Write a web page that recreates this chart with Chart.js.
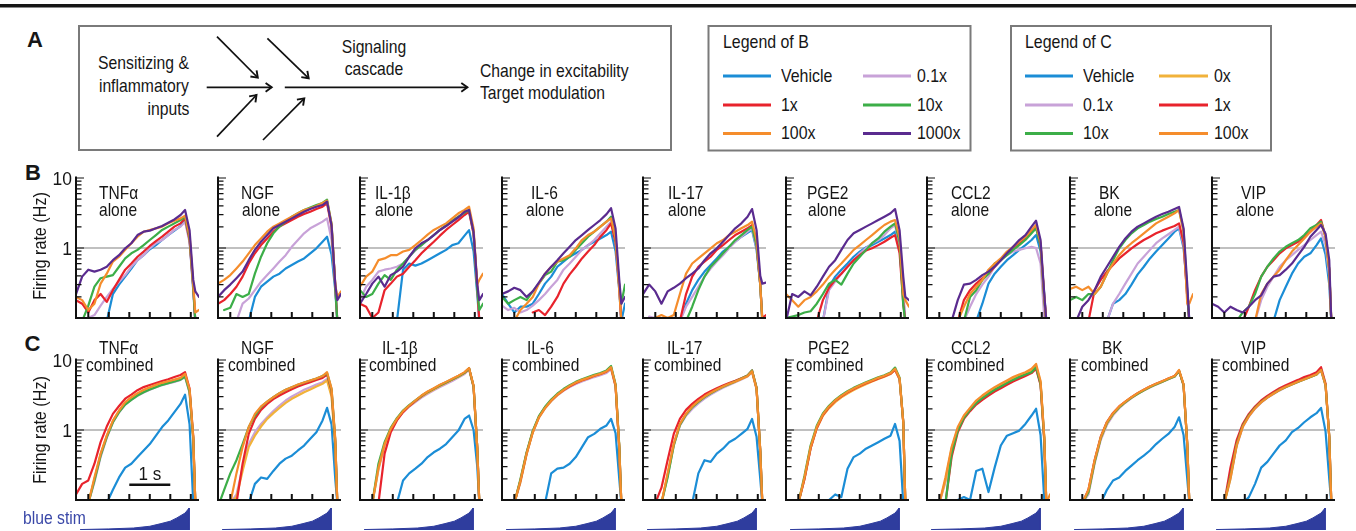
<!DOCTYPE html>
<html><head><meta charset="utf-8">
<script src="https://cdn.jsdelivr.net/npm/chart.js@4.4.1/dist/chart.umd.min.js"></script>
<style>
html,body{margin:0;padding:0;background:#fff;}
body{width:1356px;height:531px;position:relative;overflow:hidden;font-family:'Liberation Sans',Arial,Helvetica,sans-serif;color:#161616;}
.t{position:absolute;white-space:nowrap;line-height:1;}
canvas{position:absolute;}
svg{position:absolute;left:0;top:0;}
</style></head><body>
<script>
const _ = null;
// time grid (s)
const T = [-0.3,-0.15,0,0.15,0.3,0.45,0.6,0.75,0.9,1.05,1.2,1.35,1.5,1.65,1.8,1.95,2.1,2.25,2.36,2.47,2.56,2.61,2.7];
const xTicks = [0,0.5,1,1.5,2,2.5];
const yMinorTicks = [0.2,0.3,0.4,0.5,0.6,0.7,0.8,0.9,2,3,4,5,6,7,8,9];
const yMajorTicks = [1,10];
const yTickLabels = ['10','1'];
const yTickValues = [10,1];
const panelNames = ['TNFα','NGF','IL-1β','IL-6','IL-17','PGE2','CCL2','BK','VIP'];
const legendBLabels = ['Vehicle','0.1x','1x','10x','100x','1000x'];
const legendCLabels = ['Vehicle','0x','0.1x','1x','10x','100x'];
// blue stim ramp (normalized intensity)
const stimT = [-0.2,0.5,1.1,1.5,1.75,2.0,2.16,2.36,2.46,2.46];
const stimV = [0.02,0.05,0.09,0.17,0.28,0.4,0.55,0.77,1.0,0];

// ---- Row B (alone), Hz ----
const bTNF_veh  = [_,_,_,_,_,0.09,0.22,0.3,0.39,0.51,0.67,0.79,0.96,1.1,1.3,1.53,1.77,2.06,2.5,1.3,0.25,0.09,_];
const bTNF_x01  = [_,0.09,0.1,0.11,0.15,0.2,0.26,0.33,0.41,0.54,0.67,0.79,0.99,1.17,1.3,1.53,1.81,2.02,2.38,1.2,0.25,0.09,_];
const bTNF_x1   = [0.18,0.16,0.12,0.18,0.22,0.17,0.25,0.35,0.49,0.6,0.75,0.89,1.07,1.25,1.45,1.71,2.02,2.25,2.65,1.3,0.28,0.09,_];
const bTNF_x10  = [_,0.09,0.15,0.28,0.37,0.39,0.41,0.54,0.71,0.84,0.94,1.1,1.3,1.53,1.81,2.02,2.25,2.51,2.8,1.4,0.28,0.09,_];
const bTNF_x100 = [0.2,0.18,0.13,0.16,0.31,0.43,0.64,0.75,0.94,1.17,1.45,1.71,1.81,1.91,2.02,2.25,2.45,2.65,2.9,1.5,0.3,0.12,0.13];
const bTNF_x1000= [0.22,0.39,0.49,0.46,0.49,0.54,0.67,0.79,0.99,1.17,1.53,1.71,1.77,1.91,2.06,2.3,2.56,2.96,3.49,1.8,0.35,0.24,0.2];

const bNGF_veh  = [_,_,_,_,_,0.09,0.2,0.28,0.33,0.39,0.43,0.51,0.57,0.64,0.71,0.84,0.99,1.23,1.45,0.8,0.25,0.09,_];
const bNGF_x01  = [_,_,_,0.09,0.16,0.19,0.25,0.33,0.41,0.51,0.64,0.79,1.04,1.3,1.62,1.91,2.13,2.38,2.65,1.3,0.28,0.09,_];
const bNGF_x1   = [0.16,0.18,0.22,0.28,0.39,0.6,0.84,1.1,1.37,1.71,2.02,2.25,2.51,2.8,3.05,3.3,3.6,3.89,4.35,2.0,0.3,0.09,_];
const bNGF_x10  = [_,0.13,0.14,0.22,0.2,0.22,0.43,0.75,1.17,1.62,2.02,2.38,2.8,3.13,3.49,3.8,4.11,4.4,4.9,2.2,0.28,0.09,_];
const bNGF_x100 = [0.31,0.35,0.41,0.51,0.64,0.84,1.1,1.37,1.71,2.02,2.25,2.51,2.8,3.13,3.49,3.69,3.99,4.4,4.75,2.2,0.3,0.2,0.24];
const bNGF_x1000= [0.2,0.25,0.3,0.37,0.46,0.67,0.94,1.23,1.53,1.91,2.13,2.38,2.65,2.96,3.3,3.6,3.89,4.11,4.6,2.1,0.3,0.18,0.22];

const bIL1_veh  = [_,_,_,_,_,_,0.09,0.49,0.6,0.56,0.6,0.67,0.75,0.84,0.94,1.1,1.17,1.5,1.8,0.9,0.22,0.09,_];
const bIL1_x01  = [0.18,0.28,0.35,0.46,0.49,0.51,0.54,0.6,0.75,0.92,1.1,1.3,1.53,1.81,2.06,2.38,2.75,3.13,3.3,1.6,0.28,0.09,_];
const bIL1_x1   = [0.16,0.145,0.1,0.12,0.25,0.31,0.39,0.43,0.54,0.67,0.84,1.02,1.23,1.5,1.81,2.13,2.51,2.96,3.3,1.6,0.28,0.09,_];
const bIL1_x10  = [0.25,0.2,0.22,0.31,0.41,0.35,0.49,0.6,0.75,0.94,1.1,1.3,1.53,1.81,2.1,2.45,2.8,3.2,3.49,1.7,0.25,0.13,0.16];
const bIL1_x100 = [0.28,0.39,0.46,0.67,0.71,0.79,0.79,0.89,0.94,1.1,1.3,1.55,1.81,2.02,2.25,2.65,3.13,3.49,3.89,1.9,0.3,0.35,0.43];
const bIL1_x1000= [0.16,0.22,0.31,0.39,0.28,0.41,0.46,0.54,0.75,0.99,1.17,1.3,1.53,1.81,2.06,2.38,2.75,3.3,3.49,1.7,0.3,0.18,0.22];

const bIL6_veh  = [0.22,0.16,0.12,0.145,0.145,0.16,0.22,0.31,0.39,0.54,0.64,0.75,0.84,0.94,1.1,1.23,1.37,1.53,1.71,0.9,0.25,0.09,0.16];
const bIL6_x01  = [0.15,0.13,0.14,0.12,0.13,0.15,0.18,0.22,0.28,0.35,0.49,0.6,0.75,0.94,1.1,1.3,1.62,2.02,2.38,1.2,0.28,0.09,_];
const bIL6_x1   = [_,_,_,_,_,0.12,0.13,0.11,0.145,0.2,0.31,0.42,0.54,0.71,0.89,1.1,1.45,1.81,2.25,1.2,0.28,0.09,_];
const bIL6_x10  = [0.2,0.16,0.18,0.2,0.18,0.24,0.31,0.41,0.46,0.64,0.67,0.75,0.94,1.17,1.45,1.71,2.02,2.38,2.8,1.4,0.28,0.16,0.3];
const bIL6_x100 = [_,_,0.09,0.13,0.16,0.2,0.31,0.43,0.54,0.64,0.71,0.79,0.99,1.3,1.53,1.71,2.02,2.38,2.65,1.4,0.25,0.09,_];
const bIL6_x1000= [0.22,0.24,0.27,0.25,0.2,0.24,0.32,0.43,0.54,0.67,0.84,1.04,1.3,1.53,1.81,2.13,2.51,3.05,3.7,1.9,0.35,0.16,0.2];

const bIL17_veh  = [_,_,_,_,_,_,0.09,0.16,0.25,0.35,0.46,0.57,0.71,0.89,1.04,1.23,1.45,1.65,1.8,0.95,0.3,0.09,_];
const bIL17_x01  = [_,0.105,0.1,0.09,_,_,0.09,0.145,0.2,0.28,0.39,0.51,0.64,0.79,0.99,1.23,1.45,1.71,1.91,1.0,0.3,0.09,_];
const bIL17_x1   = [_,_,_,_,_,_,0.09,0.22,0.39,0.54,0.64,0.75,0.94,1.1,1.3,1.53,1.71,1.91,2.13,1.1,0.3,0.1,0.11];
const bIL17_x10  = [_,_,_,_,_,_,_,0.09,0.145,0.25,0.39,0.54,0.67,0.84,1.04,1.3,1.53,1.81,2.02,1.1,0.3,0.09,_];
const bIL17_x100 = [_,_,0.1,0.11,0.1,0.11,0.22,0.43,0.6,0.71,0.84,0.99,1.17,1.3,1.53,1.71,1.91,2.13,2.38,1.3,0.3,0.09,_];
const bIL17_x1000= [0.22,0.3,0.24,0.16,0.24,0.27,0.31,0.37,0.43,0.51,0.67,0.84,0.99,1.23,1.53,1.91,2.25,2.8,3.6,1.8,0.4,0.31,0.32];

const bPGE_veh  = [_,_,_,_,_,_,0.09,0.28,0.39,0.49,0.6,0.75,0.89,1.02,1.1,1.23,1.37,1.53,1.71,1.0,0.2,0.09,_];
const bPGE_x01  = [_,_,_,_,_,_,0.09,0.25,0.33,0.43,0.54,0.67,0.84,1.0,1.17,1.3,1.53,1.91,2.13,1.1,0.25,0.09,_];
const bPGE_x1   = [_,_,_,_,_,0.09,0.18,0.27,0.35,0.43,0.54,0.67,0.79,0.92,0.99,1.1,1.23,1.4,1.53,0.85,0.16,0.09,_];
const bPGE_x10  = [0.1,0.105,0.11,0.12,0.125,0.16,0.22,0.31,0.35,0.3,0.43,0.6,0.75,0.94,1.17,1.37,1.71,2.02,2.25,1.2,0.15,0.09,_];
const bPGE_x100 = [0.22,0.18,0.145,0.18,0.2,0.24,0.3,0.39,0.49,0.6,0.75,0.94,1.1,1.3,1.53,1.81,2.13,2.38,2.51,1.4,0.22,0.18,0.145];
const bPGE_x1000= [0.09,0.22,0.2,0.24,0.21,0.28,0.39,0.54,0.67,0.94,1.3,1.62,1.81,2.02,2.25,2.51,2.8,3.13,3.6,1.8,0.39,0.2,0.18];

const bCCL_veh  = [_,_,_,_,_,_,_,_,0.09,0.16,0.31,0.43,0.54,0.67,0.79,0.94,1.1,1.3,1.53,0.9,0.22,0.09,_];
const bCCL_x01  = [_,_,_,_,_,_,0.09,0.145,0.22,0.3,0.39,0.54,0.67,0.79,0.89,0.94,0.99,1.04,1.0,0.6,0.1,0.09,_];
const bCCL_x1   = [_,_,_,_,_,0.09,0.18,0.25,0.31,0.37,0.43,0.54,0.67,0.84,0.99,1.17,1.4,1.71,2.02,1.1,0.2,0.09,_];
const bCCL_x10  = [_,_,_,_,_,_,0.09,0.2,0.25,0.35,0.43,0.6,0.67,0.79,0.94,1.1,1.3,1.62,1.91,1.1,0.18,0.09,_];
const bCCL_x100 = [_,_,_,_,_,0.09,0.145,0.22,0.28,0.35,0.49,0.6,0.71,0.89,1.04,1.23,1.45,1.81,2.13,1.2,0.2,0.09,_];
const bCCL_x1000= [_,_,_,_,0.09,0.18,0.3,0.31,0.35,0.41,0.46,0.54,0.67,0.84,1.04,1.3,1.53,2.02,2.45,1.3,0.22,0.09,_];

const bBK_veh  = [_,_,_,_,_,_,0.09,0.16,0.18,0.22,0.3,0.42,0.54,0.71,0.89,1.1,1.37,1.71,1.91,1.0,0.25,0.09,_];
const bBK_x01  = [_,_,_,_,_,_,0.09,0.16,0.22,0.31,0.43,0.6,0.75,0.94,1.17,1.37,1.57,1.81,2.02,1.1,0.2,0.09,_];
const bBK_x1   = [_,_,_,0.09,0.25,0.35,0.46,0.57,0.71,0.84,0.99,1.14,1.3,1.45,1.62,1.77,1.91,2.06,2.25,1.2,0.2,0.09,_];
const bBK_x10  = [0.18,0.2,0.18,0.22,0.22,0.28,0.43,0.67,0.99,1.3,1.62,1.91,2.13,2.38,2.6,2.8,3.05,3.3,3.49,1.8,0.22,0.09,_];
const bBK_x100 = [0.26,0.28,0.25,0.28,0.22,0.28,0.43,0.6,0.79,0.99,1.17,1.37,1.62,1.91,2.25,2.51,2.8,3.13,3.49,1.7,0.16,0.16,0.22];
const bBK_x1000= [_,0.09,0.145,0.18,0.25,0.39,0.54,0.75,1.04,1.37,1.71,2.02,2.25,2.51,2.8,3.05,3.3,3.6,3.85,1.9,0.3,0.09,_];

const bVIP_veh  = [_,_,_,_,_,_,_,_,_,_,0.09,0.18,0.28,0.43,0.6,0.75,0.84,1.1,1.37,0.8,0.3,0.09,_];
const bVIP_x01  = [_,_,_,_,_,_,_,0.09,0.18,0.28,0.39,0.54,0.67,0.79,0.94,1.1,1.3,1.53,1.71,1.1,0.39,0.09,_];
const bVIP_x1   = [_,_,_,_,_,0.09,0.145,0.25,0.39,0.54,0.67,0.84,0.99,1.1,1.23,1.45,1.71,2.13,2.51,1.45,0.49,0.09,_];
const bVIP_x10  = [_,_,_,_,0.09,0.12,0.145,0.22,0.39,0.54,0.71,0.89,1.04,1.17,1.3,1.53,1.91,2.13,2.38,1.45,0.49,0.09,_];
const bVIP_x100 = [_,_,_,_,_,_,_,0.09,0.22,0.31,0.39,0.49,0.67,0.89,1.1,1.37,1.71,2.02,2.25,1.45,0.49,0.09,_];
const bVIP_x1000= [0.16,0.145,0.12,0.145,0.13,0.12,0.145,0.18,0.21,0.31,0.39,0.41,0.49,0.6,0.79,1.04,1.45,1.81,2.13,1.6,0.67,0.09,_];

// ---- Row C (combined), Hz ----
const cTNF_veh  = [_,_,_,_,_,0.09,0.14,0.21,0.29,0.33,0.41,0.51,0.63,0.83,1.1,1.37,1.8,2.36,3.2,1.2,0.09,_,_];
const cTNF_x0   = [_,_,0.09,0.2,0.45,0.82,1.34,1.86,2.42,2.85,3.21,3.63,3.92,4.22,4.57,4.82,5.1,5.38,6.0,3.6,0.75,0.09,_];
const cTNF_x01  = [_,_,0.09,0.18,0.41,0.77,1.28,1.78,2.31,2.7,3.08,3.43,3.75,4.09,4.37,4.62,4.87,5.2,5.7,3.4,0.7,0.09,_];
const cTNF_x1   = [0.12,0.17,0.19,0.33,0.67,1.12,1.7,2.2,2.8,3.2,3.7,4.1,4.4,4.7,5.0,5.3,5.7,6.1,6.7,3.9,0.8,0.09,0.1];
const cTNF_x10  = [_,_,0.09,0.19,0.43,0.79,1.29,1.8,2.31,2.7,3.11,3.47,3.79,4.09,4.42,4.67,4.93,5.25,5.8,3.5,0.75,0.09,_];
const cTNF_x100 = [_,_,0.09,0.21,0.46,0.83,1.36,1.9,2.5,2.94,3.36,3.75,4.09,4.42,4.72,4.98,5.25,5.56,6.35,3.8,0.8,0.09,_];

const cNGF_veh  = [_,_,_,_,_,0.09,0.17,0.21,0.2,0.26,0.33,0.39,0.43,0.51,0.6,0.75,0.93,1.37,2.07,1.2,0.2,0.09,_];
const cNGF_x0   = [_,_,0.09,0.11,0.26,0.57,0.83,1.12,1.44,1.74,2.07,2.44,2.79,3.11,3.47,3.79,4.18,4.57,5.1,3.0,0.6,0.09,_];
const cNGF_x01  = [_,_,0.09,0.12,0.29,0.63,0.93,1.22,1.52,1.86,2.24,2.64,3.01,3.36,3.75,4.09,4.47,4.82,5.38,3.2,0.6,0.09,_];
const cNGF_x1   = [_,_,_,0.09,0.33,0.88,1.44,1.94,2.36,2.76,3.11,3.47,3.83,4.18,4.52,4.82,5.2,5.56,6.2,3.6,0.7,0.09,_];
const cNGF_x10  = [0.08,0.14,0.24,0.37,0.63,1.1,1.61,2.12,2.55,2.94,3.36,3.75,4.09,4.42,4.77,5.1,5.44,5.9,6.5,3.8,0.7,0.09,_];
const cNGF_x100 = [_,_,0.09,0.24,0.57,1.1,1.7,2.17,2.55,2.94,3.36,3.75,4.09,4.47,4.77,5.1,5.44,5.9,6.7,3.9,0.75,0.09,_];

const cIL1_veh  = [_,_,_,_,_,_,0.09,0.19,0.24,0.28,0.33,0.41,0.48,0.54,0.63,0.79,0.98,1.44,1.61,1.0,0.3,0.09,_];
const cIL1_x0   = [_,_,0.09,0.28,0.62,1.02,1.42,1.83,2.2,2.58,3.0,3.4,3.8,4.25,4.7,5.2,5.75,6.5,7.5,4.2,0.55,0.09,_];
const cIL1_x01  = [_,_,0.09,0.27,0.6,1.0,1.4,1.8,2.15,2.5,2.9,3.3,3.7,4.1,4.55,5.0,5.6,6.3,7.3,4.1,0.55,0.09,_];
const cIL1_x1   = [_,_,_,0.09,0.46,0.93,1.37,1.8,2.2,2.6,3.05,3.5,3.9,4.35,4.8,5.3,5.9,6.6,7.6,4.2,0.55,0.09,_];
const cIL1_x10  = [_,_,0.09,0.33,0.67,1.07,1.48,1.9,2.27,2.64,3.08,3.5,3.9,4.35,4.8,5.3,5.85,6.6,7.6,4.2,0.55,0.09,_];
const cIL1_x100 = [_,_,0.09,0.29,0.63,1.04,1.44,1.86,2.24,2.64,3.11,3.55,3.96,4.42,4.87,5.38,5.95,6.7,7.7,4.3,0.55,0.09,_];

const cIL6_veh  = [_,_,_,_,_,_,_,0.09,0.24,0.28,0.29,0.33,0.41,0.57,0.79,0.88,1.04,1.16,1.44,0.9,0.2,0.09,_];
const cIL6_x0   = [_,_,0.09,0.18,0.45,0.92,1.5,2.05,2.6,3.15,3.68,4.2,4.68,5.1,5.45,5.9,6.25,6.8,7.7,4.3,0.57,0.09,_];
const cIL6_x01  = [_,_,0.09,0.18,0.45,0.92,1.5,2.04,2.58,3.12,3.62,4.1,4.55,4.95,5.3,5.7,6.05,6.55,7.4,4.2,0.55,0.09,_];
const cIL6_x1   = [_,_,0.09,0.19,0.47,0.95,1.54,2.1,2.66,3.2,3.72,4.22,4.7,5.15,5.5,5.95,6.3,6.85,7.8,4.3,0.57,0.09,_];
const cIL6_x10  = [_,_,0.09,0.2,0.48,0.97,1.58,2.15,2.72,3.3,3.85,4.37,4.87,5.3,5.7,6.15,6.5,7.1,8.2,4.5,0.6,0.09,_];
const cIL6_x100 = [_,_,0.09,0.19,0.46,0.93,1.52,2.07,2.64,3.21,3.75,4.27,4.77,5.2,5.56,6.0,6.35,6.9,7.9,4.4,0.57,0.09,_];

const cIL17_veh  = [_,_,_,_,_,_,_,_,0.09,0.24,0.37,0.35,0.46,0.54,0.67,0.75,0.88,1.04,1.44,0.8,0.2,0.09,_];
const cIL17_x0   = [_,_,_,0.09,0.23,0.62,1.2,1.68,2.14,2.55,2.97,3.37,3.75,4.15,4.52,4.9,5.35,5.85,6.8,3.9,0.5,0.09,_];
const cIL17_x01  = [_,_,_,0.09,0.22,0.6,1.15,1.6,2.0,2.4,2.8,3.2,3.6,4.0,4.4,4.8,5.25,5.8,6.7,3.8,0.5,0.09,_];
const cIL17_x1   = [_,_,0.09,0.15,0.37,0.88,1.44,1.94,2.36,2.79,3.21,3.59,3.96,4.32,4.67,5.04,5.5,6.0,7.1,4.0,0.5,0.09,_];
const cIL17_x10  = [_,_,_,0.09,0.21,0.6,1.18,1.66,2.12,2.52,2.95,3.35,3.75,4.15,4.55,4.95,5.45,6.0,7.1,4.0,0.5,0.09,_];
const cIL17_x100 = [_,_,_,0.09,0.24,0.63,1.22,1.7,2.17,2.58,3.01,3.4,3.79,4.18,4.57,4.93,5.38,5.9,6.9,3.9,0.5,0.09,_];

const cPGE_veh  = [_,_,_,_,_,_,_,0.1,0.12,0.11,0.28,0.41,0.46,0.54,0.6,0.67,0.75,0.83,1.22,0.7,0.09,_,_];
const cPGE_x0   = [_,_,0.09,0.2,0.55,1.05,1.6,2.05,2.5,2.92,3.32,3.72,4.12,4.52,4.92,5.35,5.75,6.3,7.2,5.3,1.3,0.09,_];
const cPGE_x01  = [_,_,0.09,0.2,0.55,1.07,1.63,2.12,2.58,3.0,3.4,3.8,4.2,4.6,5.0,5.4,5.8,6.35,7.2,5.3,1.3,0.09,_];
const cPGE_x1   = [_,_,0.09,0.2,0.55,1.07,1.63,2.12,2.6,3.03,3.45,3.85,4.25,4.65,5.0,5.45,5.85,6.4,7.3,5.4,1.3,0.09,0.1];
const cPGE_x10  = [_,_,0.09,0.22,0.6,1.15,1.72,2.22,2.7,3.14,3.58,4.0,4.4,4.8,5.2,5.65,6.05,6.65,7.8,5.6,1.3,0.09,_];
const cPGE_x100 = [_,_,0.09,0.21,0.57,1.1,1.67,2.17,2.64,3.08,3.51,3.92,4.32,4.72,5.1,5.56,5.95,6.5,7.5,5.5,1.3,0.09,_];

const cCCL_veh  = [_,_,_,_,_,0.1,0.11,0.1,0.26,0.28,0.13,0.29,0.6,0.83,0.9,0.98,1.22,1.61,2.01,0.85,0.1,_,_];
const cCCL_x0   = [_,_,0.09,0.19,0.54,1.05,1.55,2.0,2.52,2.98,3.45,3.9,4.35,4.85,5.4,5.9,6.4,7.0,8.2,4.8,0.78,0.09,_];
const cCCL_x01  = [_,_,0.09,0.18,0.52,1.02,1.52,1.98,2.5,2.95,3.4,3.85,4.3,4.75,5.25,5.75,6.25,6.8,7.9,4.6,0.75,0.09,_];
const cCCL_x1   = [_,_,_,0.09,0.41,0.93,1.44,1.86,2.31,2.7,3.11,3.55,3.96,4.42,4.93,5.38,5.9,6.5,7.5,4.4,0.7,0.09,_];
const cCCL_x10  = [_,_,_,0.09,0.46,0.98,1.49,1.94,2.42,2.85,3.29,3.75,4.18,4.67,5.2,5.7,6.2,6.7,7.9,4.6,0.75,0.09,_];
const cCCL_x100 = [_,_,0.09,0.21,0.57,1.1,1.61,2.07,2.64,3.11,3.59,4.09,4.57,5.1,5.7,6.2,6.7,7.5,8.8,5.0,0.8,0.09,0.12];

const cBK_veh  = [_,_,_,_,_,0.09,0.14,0.19,0.21,0.26,0.31,0.37,0.43,0.51,0.63,0.75,0.88,1.1,1.52,0.85,0.2,0.09,_];
const cBK_x0   = [_,_,0.09,0.13,0.35,0.76,1.24,1.68,2.1,2.5,2.9,3.3,3.7,4.1,4.5,4.9,5.35,5.8,7.0,4.4,0.62,0.09,_];
const cBK_x01  = [_,_,0.09,0.12,0.33,0.72,1.18,1.62,2.05,2.45,2.85,3.25,3.65,4.05,4.45,4.85,5.3,5.75,6.9,4.3,0.6,0.09,_];
const cBK_x1   = [_,_,0.09,0.14,0.37,0.8,1.3,1.75,2.17,2.55,2.94,3.36,3.75,4.18,4.57,4.98,5.44,5.9,7.0,4.4,0.62,0.09,_];
const cBK_x10  = [_,_,0.09,0.13,0.35,0.77,1.26,1.7,2.12,2.5,2.9,3.3,3.7,4.12,4.5,4.9,5.35,5.8,7.0,4.4,0.62,0.09,_];
const cBK_x100 = [_,_,0.09,0.14,0.37,0.79,1.29,1.74,2.17,2.55,2.94,3.36,3.75,4.18,4.57,4.98,5.44,5.9,7.2,4.5,0.63,0.09,_];

const cVIP_veh  = [_,_,_,_,_,0.09,0.11,0.17,0.29,0.35,0.46,0.6,0.71,0.93,1.07,1.29,1.52,1.74,2.07,0.95,0.2,0.09,_];
const cVIP_x0   = [_,_,0.09,0.2,0.6,1.12,1.6,2.06,2.5,2.92,3.32,3.73,4.1,4.48,4.88,5.28,5.7,6.2,7.3,4.4,0.8,0.09,_];
const cVIP_x01  = [_,_,0.09,0.2,0.58,1.1,1.56,2.02,2.46,2.87,3.27,3.68,4.07,4.45,4.85,5.25,5.7,6.2,7.1,4.3,0.8,0.09,_];
const cVIP_x1   = [_,_,0.09,0.29,0.71,1.22,1.7,2.17,2.64,3.08,3.51,3.96,4.37,4.77,5.2,5.7,6.1,6.7,7.9,4.6,0.8,0.09,_];
const cVIP_x10  = [_,_,0.09,0.22,0.62,1.15,1.62,2.08,2.52,2.93,3.33,3.75,4.12,4.5,4.9,5.3,5.72,6.2,7.2,4.4,0.8,0.09,_];
const cVIP_x100 = [_,_,0.09,0.21,0.6,1.12,1.58,2.05,2.5,2.91,3.32,3.75,4.14,4.52,4.93,5.3,5.75,6.25,7.2,4.4,0.8,0.09,_];

// tables built from the arrays above
const rowBSeries = [
  [bTNF_veh,bTNF_x01,bTNF_x1,bTNF_x10,bTNF_x100,bTNF_x1000],
  [bNGF_veh,bNGF_x01,bNGF_x1,bNGF_x10,bNGF_x100,bNGF_x1000],
  [bIL1_veh,bIL1_x01,bIL1_x1,bIL1_x10,bIL1_x100,bIL1_x1000],
  [bIL6_veh,bIL6_x01,bIL6_x1,bIL6_x10,bIL6_x100,bIL6_x1000],
  [bIL17_veh,bIL17_x01,bIL17_x1,bIL17_x10,bIL17_x100,bIL17_x1000],
  [bPGE_veh,bPGE_x01,bPGE_x1,bPGE_x10,bPGE_x100,bPGE_x1000],
  [bCCL_veh,bCCL_x01,bCCL_x1,bCCL_x10,bCCL_x100,bCCL_x1000],
  [bBK_veh,bBK_x01,bBK_x1,bBK_x10,bBK_x100,bBK_x1000],
  [bVIP_veh,bVIP_x01,bVIP_x1,bVIP_x10,bVIP_x100,bVIP_x1000]];
const rowCSeries = [
  [cTNF_veh,cTNF_x0,cTNF_x01,cTNF_x1,cTNF_x10,cTNF_x100],
  [cNGF_veh,cNGF_x0,cNGF_x01,cNGF_x1,cNGF_x10,cNGF_x100],
  [cIL1_veh,cIL1_x0,cIL1_x01,cIL1_x1,cIL1_x10,cIL1_x100],
  [cIL6_veh,cIL6_x0,cIL6_x01,cIL6_x1,cIL6_x10,cIL6_x100],
  [cIL17_veh,cIL17_x0,cIL17_x01,cIL17_x1,cIL17_x10,cIL17_x100],
  [cPGE_veh,cPGE_x0,cPGE_x01,cPGE_x1,cPGE_x10,cPGE_x100],
  [cCCL_veh,cCCL_x0,cCCL_x01,cCCL_x1,cCCL_x10,cCCL_x100],
  [cBK_veh,cBK_x0,cBK_x01,cBK_x1,cBK_x10,cBK_x100],
  [cVIP_veh,cVIP_x0,cVIP_x01,cVIP_x1,cVIP_x10,cVIP_x100]];

// ---------- styling / layout ----------
const COL = {veh:'#1b8dd6', x01:'#c8a2d8', x1:'#e8232c', x10:'#3cae48', x100:'#f58d2c', x1000:'#5a2b8f', x0:'#f1b23a'};
const colorsB = [COL.veh,COL.x01,COL.x1,COL.x10,COL.x100,COL.x1000];
const colorsC = [COL.veh,COL.x0,COL.x01,COL.x1,COL.x10,COL.x100];
const orderB = [5,4,3,2,1,0];
const orderC = [5,4,3,1,2,0];
const axisX = [76,218,360,502,643,786,927,1070,1212];
const PW = 123;

function label(s, x, base, size, o={}) {
  const d = document.createElement('div');
  d.className = 't';
  d.textContent = s;
  d.style.fontSize = size + 'px';
  d.style.top = (base - 0.8465*size).toFixed(2) + 'px';
  const sx = o.sx ?? 0.85;
  if (o.bold) d.style.fontWeight = 'bold';
  if (o.color) d.style.color = o.color;
  if (o.align === 'right') { d.style.right = (1356 - x) + 'px'; d.style.transformOrigin = '100% 0'; d.style.transform = `scaleX(${sx})`; }
  else if (o.align === 'center') { d.style.left = x + 'px'; d.style.transformOrigin = '50% 0'; d.style.transform = `translateX(-50%) scaleX(${sx})`; }
  else { d.style.left = x + 'px'; d.style.transformOrigin = '0 0'; d.style.transform = `scaleX(${sx})`; }
  document.body.appendChild(d);
  return d;
}
function vlabel(s, cx, cy, size, sx) {
  const d = document.createElement('div');
  d.className = 't';
  d.textContent = s;
  d.style.fontSize = size + 'px';
  d.style.left = cx + 'px'; d.style.top = cy + 'px';
  d.style.transform = `translate(-50%,-50%) rotate(-90deg) scaleX(${sx})`;
  document.body.appendChild(d);
}
function ctext(ctx, s, x, y, size, align, sx) {
  ctx.save(); ctx.translate(x, y); ctx.scale(sx, 1);
  ctx.font = size + 'px "Liberation Sans", Arial, sans-serif';
  ctx.fillStyle = '#161616'; ctx.textAlign = align; ctx.textBaseline = 'alphabetic';
  ctx.fillText(s, 0, 0); ctx.restore();
}

function decor(cfg) {
  return {
    id: 'panelDecor',
    beforeDatasetsDraw(chart) {
      const {ctx, chartArea: a, scales: {y}} = chart;
      const py = y.getPixelForValue(1);
      ctx.save(); ctx.strokeStyle = '#ababab'; ctx.lineWidth = 1.3;
      ctx.beginPath(); ctx.moveTo(a.left, py); ctx.lineTo(a.right, py); ctx.stroke(); ctx.restore();
    },
    afterDatasetsDraw(chart) {
      const {ctx, chartArea: a, scales: {x, y}} = chart;
      ctx.save();
      ctx.strokeStyle = '#111'; ctx.lineWidth = 2;
      ctx.beginPath();
      ctx.moveTo(a.left, a.top - 1.5); ctx.lineTo(a.left, a.bottom + 1);
      ctx.moveTo(a.left - 1, a.bottom); ctx.lineTo(a.right, a.bottom);
      ctx.stroke();
      ctx.lineWidth = 1.2; ctx.beginPath();
      yMinorTicks.forEach(v => { const p = y.getPixelForValue(v); ctx.moveTo(a.left, p); ctx.lineTo(a.left + 5.5, p); });
      yMajorTicks.forEach(v => { const p = y.getPixelForValue(v); ctx.moveTo(a.left, p); ctx.lineTo(a.left + 8, p); });
      ctx.stroke();
      ctx.lineWidth = 2; ctx.beginPath();
      xTicks.forEach(t => { const p = x.getPixelForValue(t); ctx.moveTo(p, a.bottom); ctx.lineTo(p, a.bottom - 6); });
      ctx.stroke();
      if (cfg.labels) yTickValues.forEach((v, i) => ctext(ctx, yTickLabels[i], a.left - 4, y.getPixelForValue(v) + 7, 19, 'right', 0.92));
      if (cfg.scaleBar) {
        const yb = y.getPixelForValue(0.165);
        ctx.lineWidth = 2.5; ctx.beginPath();
        ctx.moveTo(x.getPixelForValue(1.0), yb); ctx.lineTo(x.getPixelForValue(2.0), yb); ctx.stroke();
        ctext(ctx, '1 s', x.getPixelForValue(1.5), yb - 4.5, 19, 'center', 0.9);
      }
      ctx.restore();
    }
  };
}

function makeChart(left, top, bottom, padL, datasets, yScale, plugin) {
  const padR = 6, padT = 6, padB = 5;
  const w = PW + padL + padR, h = (bottom - top) + padT + padB;
  const cv = document.createElement('canvas');
  cv.width = w; cv.height = h;
  Object.assign(cv.style, {left: (left - padL) + 'px', top: (top - padT) + 'px', width: w + 'px', height: h + 'px'});
  document.body.appendChild(cv);
  return new Chart(cv.getContext('2d'), {
    type: 'line',
    data: {datasets},
    options: {
      responsive: false, maintainAspectRatio: false, animation: false, devicePixelRatio: 1, events: [],
      layout: {padding: {left: padL, right: padR, top: padT, bottom: padB}},
      plugins: {legend: {display: false}, tooltip: {enabled: false}, title: {display: false}},
      scales: {x: {type: 'linear', min: -0.3, max: 2.7, display: false}, y: yScale}
    },
    plugins: plugin ? [plugin] : []
  });
}
function traceSets(series, colors, order) {
  return order.map(i => ({
    data: T.map((t, j) => ({x: t, y: series[i][j]})),
    borderColor: colors[i], borderWidth: 2.2, pointRadius: 0, tension: 0, fill: false,
    borderJoinStyle: 'round', borderCapStyle: 'round', spanGaps: false
  }));
}
const logY = {type: 'logarithmic', min: 0.1, max: 10, display: false};

// ---------- build panels ----------
for (let k = 0; k < 9; k++) {
  makeChart(axisX[k], 178, 318, k === 0 ? 32 : 6, traceSets(rowBSeries[k], colorsB, orderB), logY, decor({labels: k === 0}));
  makeChart(axisX[k], 360, 500, k === 0 ? 32 : 6, traceSets(rowCSeries[k], colorsC, orderC), logY, decor({labels: k === 0, scaleBar: k === 0}));
  makeChart(axisX[k], 508, 530, 6, [{
    data: stimT.map((t, j) => ({x: t, y: stimV[j]})),
    borderColor: '#2f3d9e', backgroundColor: '#2f3d9e', borderWidth: 1, pointRadius: 0, tension: 0, fill: 'origin'
  }], {type: 'linear', min: 0, max: 1, display: false}, null);
}

// ---------- panel A, legends (SVG shapes) ----------
const NS = 'http://www.w3.org/2000/svg';
const svg = document.createElementNS(NS, 'svg');
svg.setAttribute('width', 1356); svg.setAttribute('height', 160);
document.body.appendChild(svg);
function el(tag, attrs) { const e = document.createElementNS(NS, tag); for (const k in attrs) e.setAttribute(k, attrs[k]); svg.appendChild(e); return e; }
el('rect', {x: 0, y: 4, width: 1356, height: 3.5, fill: '#161616'});
el('rect', {x: 79, y: 26, width: 592, height: 124, fill: 'none', stroke: '#7a7a7a', 'stroke-width': 2});
el('rect', {x: 708.5, y: 26, width: 262, height: 124.5, fill: 'none', stroke: '#7a7a7a', 'stroke-width': 2});
el('rect', {x: 1011, y: 26, width: 260, height: 124.5, fill: 'none', stroke: '#7a7a7a', 'stroke-width': 2});
function arrow(x1, y1, x2, y2) {
  el('line', {x1, y1, x2, y2, stroke: '#111', 'stroke-width': 1.7});
  const a = Math.atan2(y2 - y1, x2 - x1), L = 7.5, h = 0.62;
  const p1 = [x2 - L*Math.cos(a - h), y2 - L*Math.sin(a - h)], p2 = [x2 - L*Math.cos(a + h), y2 - L*Math.sin(a + h)];
  el('polyline', {points: `${p1[0]},${p1[1]} ${x2},${y2} ${p2[0]},${p2[1]}`, fill: 'none', stroke: '#111', 'stroke-width': 1.9});
}
arrow(206.7, 87.3, 271.7, 87.3);
arrow(284.8, 87.3, 467.4, 87.3);
arrow(217, 36.7, 257.8, 77.7);
arrow(267.4, 38.3, 308.7, 78.3);
arrow(217, 136.7, 256.5, 95);
arrow(263, 140, 304.3, 98.3);

// legends
const legRowsY = [76, 105, 133.5];
function legend(boxX, titleText, labels, colors, cols, col1, col2) {
  label(titleText, boxX + 15, 48.5, 18.5, {sx: 0.86});
  [col1, col2].forEach((c, ci) => {
    cols[ci].forEach((si, ri) => {
      el('line', {x1: c[0], y1: legRowsY[ri], x2: c[1], y2: legRowsY[ri], stroke: colors[si], 'stroke-width': 3});
      label(labels[si], c[2], legRowsY[ri] + 6.5, 18.5, {sx: 0.86});
    });
  });
}
legend(708, 'Legend of B', legendBLabels, colorsB, [[0,2,4],[1,3,5]], [723,771,781], [863,911,917]);
legend(1010, 'Legend of C', legendCLabels, colorsC, [[0,2,4],[1,3,5]], [1025,1073,1083], [1159,1208,1214]);

// panel A text
label('A', 27, 47.5, 22, {bold: true, sx: 1});
label('Sensitizing &', 189, 69.5, 18.5, {align: 'right'});
label('inflammatory', 189, 93, 18.5, {align: 'right'});
label('inputs', 189, 116, 18.5, {align: 'right'});
label('Signaling', 374, 54, 18.5, {align: 'center'});
label('cascade', 374, 76, 18.5, {align: 'center'});
label('Change in excitability', 480, 77.3, 18.5);
label('Target modulation', 480, 100, 18.5);

// panel letters, axis titles
label('B', 25, 180.5, 22, {bold: true, sx: 1});
label('C', 24.5, 351.5, 22, {bold: true, sx: 1});
vlabel('Firing rate (Hz)', 38.5, 246, 19, 0.85);
vlabel('Firing rate (Hz)', 38.5, 430, 19, 0.85);
label('blue stim', 22.5, 525, 18.5, {color: '#3a48a8'});

// panel titles
const bT1 = [99,241,375,531,668,807,951,1099,1241];
const bT2 = [99,242,375,526,668,808,951,1094,1236];
const cT1 = [99,241,382,527,667,808,951,1102,1241];
const cT2 = [86,228,369,512,654,796,937,1081,1222];
for (let k = 0; k < 9; k++) {
  label(panelNames[k], bT1[k], 199.3, 18.5, {sx: 0.84});
  label('alone', bT2[k], 216.3, 18.5, {sx: 0.84});
  label(panelNames[k], cT1[k], 355, 18.5, {sx: 0.84});
  label('combined', cT2[k], 371.7, 18.5, {sx: 0.84});
}
</script>
</body></html>
